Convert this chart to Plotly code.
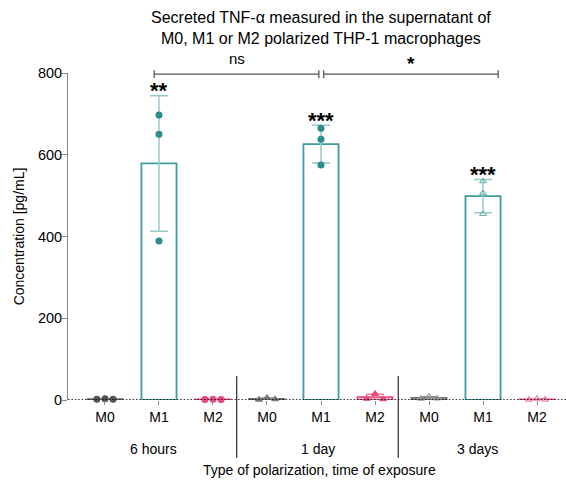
import numpy as np
import plotly.graph_objects as go

# ---- data -----------------------------------------------------------------
polarizations = ["M0", "M1", "M2"]
time_points = ["6 hours", "1 day", "3 days"]

# TNF-alpha replicates [pg/mL], one list per time point, ordered M0, M1, M2
reps_6h = [[2, 3, 2], [697, 650, 389], [1, 2, 1]]
reps_1d = [[1, 5, 2], [665, 638, 575], [3, 15, 2]]
reps_3d = [[3, 8, 4], [535, 506, 455], [1, 3, 1]]

significance = ["**", "***", "***"]          # M1 vs M0 at each time point
comparisons = ["ns", "*"]                      # 6 h vs 1 day, 1 day vs 3 days

y_ticks = [0, 200, 400, 600, 800]

# ---- styling --------------------------------------------------------------
FONT = "Liberation Sans, Arial, Helvetica, sans-serif"
bar_line = {"M0": "#6e6e6e", "M1": "#3f9c9c", "M2": "#ec4c7c"}
err_col = {"M0": "#8a8a8a", "M1": "#97cbcb", "M2": "#f07fa2"}
point_style = {
    # (time index, polarization) -> (symbol, colour)
    (0, "M0"): ("circle", "#555555"),
    (0, "M1"): ("circle", "#2f8c8c"),
    (0, "M2"): ("circle", "#ea4a7a"),
    (1, "M0"): ("triangle-up", "#7a7a7a"),
    (1, "M1"): ("circle", "#2f8c8c"),
    (1, "M2"): ("triangle-up", "#ea4a7a"),
    (2, "M0"): ("triangle-up-open", "#9a9a9a"),
    (2, "M1"): ("triangle-up-open", "#6fb3b3"),
    (2, "M2"): ("triangle-up-open", "#f07fa2"),
}
spread = [-0.15, 0.0, 0.15]

all_reps = [reps_6h, reps_1d, reps_3d]
fig = go.Figure()

# bars (mean) with SD error bars, one trace per polarization
for j, pol in enumerate(polarizations):
    xs, means, sds = [], [], []
    for t, reps in enumerate(all_reps):
        v = np.array(reps[j], dtype=float)
        xs.append(t * 3 + j)
        means.append(v.mean())
        sds.append(v.std(ddof=1))
    fig.add_trace(go.Bar(
        x=xs, y=means, width=0.65,
        marker=dict(color="rgba(255,255,255,0)",
                    line=dict(color=bar_line[pol], width=1.8)),
        error_y=dict(type="data", array=sds, color=err_col[pol],
                     thickness=1.5, width=9),
        showlegend=False, hoverinfo="skip",
    ))

# individual replicates
for t, reps in enumerate(all_reps):
    for j, pol in enumerate(polarizations):
        sym, col = point_style[(t, pol)]
        offs = [0, 0, 0] if pol == "M1" else spread
        fig.add_trace(go.Scatter(
            x=[t * 3 + j + o for o in offs], y=reps[j], mode="markers",
            marker=dict(symbol=sym, size=6, color=col,
                        line=dict(color=col, width=1.1)),
            cliponaxis=False, showlegend=False,
        ))

# significance stars above the M1 bars
for t, reps in enumerate(all_reps):
    v = np.array(reps[1], dtype=float)
    top = v.mean() + v.std(ddof=1)
    fig.add_annotation(x=t * 3 + 1, y=top, text="<b>" + significance[t] + "</b>",
                       showarrow=False, yanchor="middle", yshift=5,
                       font=dict(family=FONT, size=22, color="black"),
                       xref="x", yref="y")

shapes = []
# dotted zero line
shapes.append(dict(type="line", xref="paper", yref="y", x0=0, x1=1, y0=0, y1=0,
                   line=dict(color="black", width=1.6, dash="1.6px,1.8px"),
                   layer="above"))
# group separators
for xs in [2.44, 5.43]:
    shapes.append(dict(type="line", xref="x", yref="paper", x0=xs, x1=xs,
                       y0=0.073, y1=-0.177, line=dict(color="black", width=1)))
# comparison brackets
brackets = [(0.91, 3.96), (4.05, 7.28)]
by, cap = 0.9965, 0.012
for (a, b), lab, lx in zip(brackets, comparisons, [2.44, 5.67]):
    shapes.append(dict(type="line", xref="x", yref="paper", x0=a, x1=b,
                       y0=by, y1=by, line=dict(color="#555555", width=1.3)))
    for e in (a, b):
        shapes.append(dict(type="line", xref="x", yref="paper", x0=e, x1=e,
                           y0=by - cap, y1=by + cap,
                           line=dict(color="#555555", width=1.3)))
    fig.add_annotation(x=lx, y=1.045 if lab == "ns" else 1.03,
                       text=lab if lab == "ns" else "<b>" + lab + "</b>",
                       xref="x", yref="paper", showarrow=False,
                       yanchor="middle",
                       font=dict(family=FONT,
                                 size=15 if lab == "ns" else 19,
                                 color="black"))

# time point labels and x title
for t, (name, gx) in enumerate(zip(time_points, [0.89, 3.95, 6.9])):
    fig.add_annotation(x=gx, y=-0.15, xref="x", yref="paper", text=name,
                       showarrow=False, yanchor="middle",
                       font=dict(family=FONT, size=14, color="black"))
fig.add_annotation(x=0.506, y=-0.214, xref="paper", yref="paper",
                   text="Type of polarization, time of exposure",
                   showarrow=False, yanchor="middle",
                   font=dict(family=FONT, size=14, color="black"))

fig.update_layout(
    width=566, height=481,
    margin=dict(l=68, r=0, t=73, b=81),
    paper_bgcolor="white", plot_bgcolor="white",
    barmode="overlay",
    font=dict(family=FONT, size=14, color="black"),
    title=dict(text="Secreted TNF-\u03b1 measured in the supernatant of<br>"
                    "M0, M1 or M2 polarized THP-1 macrophages",
               x=0.567, xanchor="center", y=0.952, yanchor="middle",
               font=dict(family=FONT, size=16, color="black")),
    shapes=shapes,
    xaxis=dict(range=[-0.685, 8.537], tickmode="array",
               tickvals=list(range(9)), ticktext=polarizations * 3,
               showline=False, showgrid=False, zeroline=False,
               ticks="outside", ticklen=4, tickcolor="#888888",
               tickfont=dict(family=FONT, size=14, color="black")),
    yaxis=dict(range=[0, 800], tickvals=y_ticks,
               showline=True, linecolor="#888888", linewidth=1,
               showgrid=False, zeroline=False,
               ticks="outside", ticklen=5, tickcolor="#888888",
               ticklabelstandoff=-3,
               tickfont=dict(family=FONT, size=14.5, color="black"),
               title=dict(text="Concentration [pg/mL]", standoff=9,
                          font=dict(family=FONT, size=14, color="black"))),
)

fig.write_html("out.html")
